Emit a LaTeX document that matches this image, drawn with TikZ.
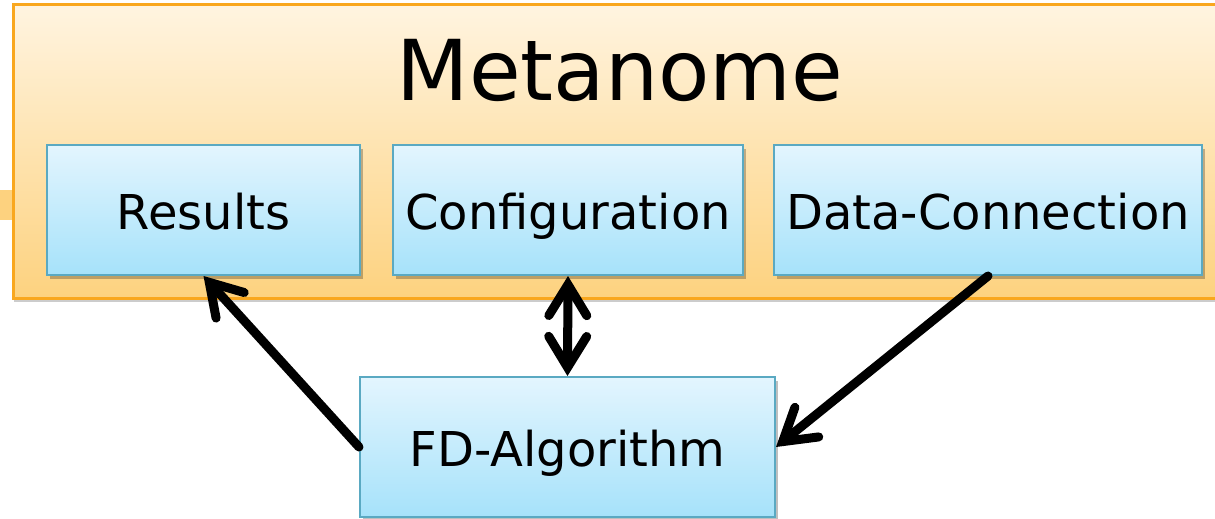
\documentclass[tikz,border=0pt]{standalone}
\usepackage{fontspec}
\setmainfont{DejaVu Sans}
\usetikzlibrary{arrows.meta,shadows}
\definecolor{orbord}{HTML}{F9A71E}
\definecolor{ortop}{HTML}{FFF4E0}
\definecolor{orbot}{HTML}{FDD27F}
\definecolor{bltop}{HTML}{E3F5FE}
\definecolor{blbot}{HTML}{A6E2FA}
\definecolor{blbord}{HTML}{5AA9C2}
\tikzset{
  outerbox/.style={draw=orbord, line width=3pt, top color=ortop, bottom color=orbot,
    drop shadow={shadow xshift=1pt, shadow yshift=-4pt, opacity=0.2, fill=black}},
  compbox/.style={draw=blbord, line width=2pt, top color=bltop, bottom color=blbot,
    font=\fontsize{48}{50}\selectfont, text height=38pt, text depth=0pt, inner sep=0pt,
    drop shadow={shadow xshift=3pt, shadow yshift=-4pt, opacity=0.25, fill=black}},
  barb/.tip={Straight Barb[length=31pt,width=38pt,line cap=round,line join=miter]},
  conn/.style={line width=9pt, black, line cap=round, -barb},
  dconn/.style={line width=9pt, black, line cap=round, barb-barb}
}
\begin{document}
\begin{tikzpicture}[x=1pt,y=-1pt]
\useasboundingbox (0,0) rectangle (1215,519);
\clip (0,0) rectangle (1215,519);
\fill[orbot] (0,190) rectangle (14,220);
\node[outerbox, minimum width=1217pt, minimum height=293pt, inner sep=0pt] (metanome) at (621.5,151.5) {};
\node[anchor=base, font=\fontsize{84}{90}\selectfont, inner sep=0pt] (title) at (620,100) {Metanome};
\node[compbox, minimum width=313pt, minimum height=130pt] (results) at (203.5,210) {Results};
\node[compbox, minimum width=350pt, minimum height=130pt] (config) at (568,210) {Configuration};
\node[compbox, minimum width=428pt, minimum height=130pt] (data) at (988,210) {Data-Connection};
\node[compbox, minimum width=415pt, minimum height=140pt] (fd) at (567.5,447) {FD-Algorithm};
\draw[conn] (fd.west) -- (results.south);
\draw[dconn] (config.south) -- (fd.north);
\draw[conn] (data.south) -- (fd.east);
\end{tikzpicture}
\end{document}
